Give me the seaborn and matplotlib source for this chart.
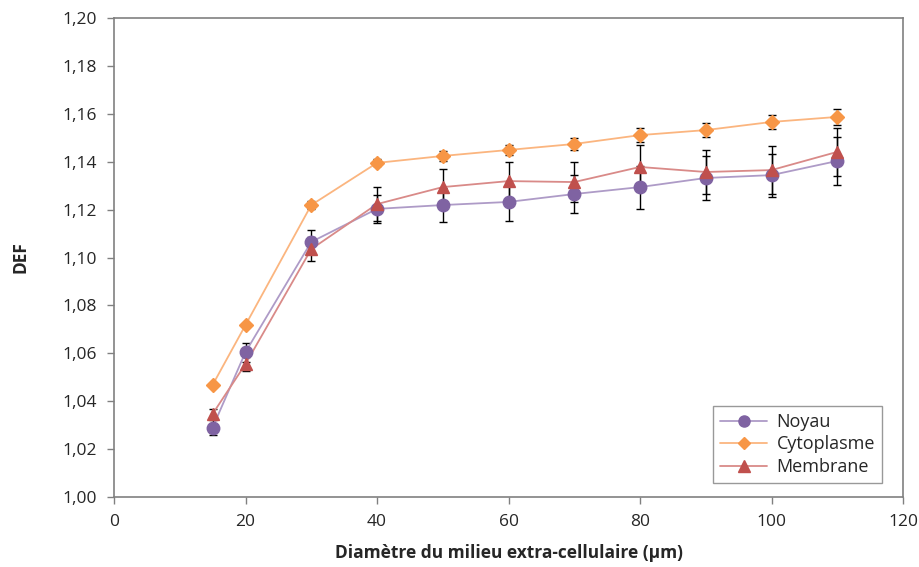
import seaborn as sns
import numpy as np
import pandas as pd
import matplotlib.pyplot as plt
from matplotlib.ticker import FuncFormatter
from matplotlib.lines import Line2D

sns.set_style("white")
plt.rcParams['font.family'] = ['Open Sans', 'DejaVu Sans']

# données
diametre = [15, 20, 30, 40, 50, 60, 70, 80, 90, 100, 110]
noyau = [1.029, 1.0605, 1.1065, 1.1203, 1.1219, 1.1232, 1.1265, 1.1294, 1.1332, 1.1344, 1.1403]
noyau_err = [0.003, 0.004, 0.005, 0.006, 0.007, 0.008, 0.008, 0.009, 0.009, 0.009, 0.010]
cyto = [1.0468, 1.0718, 1.1219, 1.1395, 1.1424, 1.1449, 1.1474, 1.1511, 1.1532, 1.1566, 1.1587]
cyto_err = [0.001, 0.001, 0.0015, 0.0015, 0.002, 0.002, 0.0025, 0.003, 0.003, 0.003, 0.0035]
membrane = [1.0347, 1.0555, 1.1035, 1.1223, 1.1294, 1.1319, 1.1315, 1.1378, 1.1357, 1.1365, 1.1441]
membrane_err = [0.002, 0.003, 0.005, 0.007, 0.0075, 0.008, 0.0085, 0.009, 0.009, 0.010, 0.010]

series = [
    ("Noyau", noyau, noyau_err, "#7F63A2", "#AE9BC7", "o", 9),
    ("Cytoplasme", cyto, cyto_err, "#F79646", "#FBB57F", "D", 7),
    ("Membrane", membrane, membrane_err, "#C0504D", "#D98A88", "^", 9),
]

fig = plt.figure(figsize=(9.19, 5.67), dpi=100)
ax = fig.add_axes([114 / 919, 70 / 567, 789 / 919, 479 / 567])

for nom, vals, errs, col, lcol, mk, ms in series:
    df = pd.DataFrame({"x": diametre, "y": vals})
    ax.errorbar(diametre, vals, yerr=errs, fmt="none", ecolor="black",
                elinewidth=1, capsize=3, capthick=1, zorder=2)
    sns.lineplot(data=df, x="x", y="y", ax=ax, color=lcol, lw=1.3, zorder=3)
    ax.plot(diametre, vals, linestyle="none", marker=mk, ms=ms, color=col,
            mec=col, zorder=4)

# légende
handles = [Line2D([], [], color=lcol, lw=1.3, marker=mk, ms=ms - 1, mfc=col, mec=col)
           for nom, vals, errs, col, lcol, mk, ms in series]
leg = ax.legend(handles, [s[0] for s in series], loc="lower right",
                bbox_to_anchor=(0.985, 0.01), fontsize=13, frameon=True,
                fancybox=False, edgecolor="#808080", handlelength=2.6,
                borderpad=0.4, labelspacing=0.25, handletextpad=0.5)
leg.get_frame().set_linewidth(1)

ax.set_xlim(0, 120)
ax.set_ylim(1.0, 1.2)
ax.set_xticks(np.arange(0, 121, 20))
ax.set_yticks(np.arange(1.0, 1.2001, 0.02))
ax.yaxis.set_major_formatter(FuncFormatter(lambda v, p: f"{v:.2f}".replace(".", ",")))
ax.tick_params(axis="both", direction="out", length=5, width=1, color="#808080",
               labelsize=12.5, left=True, bottom=True, pad=7)
for s in ax.spines.values():
    s.set_color("#808080")
    s.set_linewidth(1.2)

ax.set_xlabel("Diamètre du milieu extra-cellulaire (µm)", fontsize=12.5, fontweight="bold", labelpad=10)
ax.set_ylabel("DEF", fontsize=12.5, fontweight="bold", labelpad=24)

plt.savefig("out.png", dpi=100)
